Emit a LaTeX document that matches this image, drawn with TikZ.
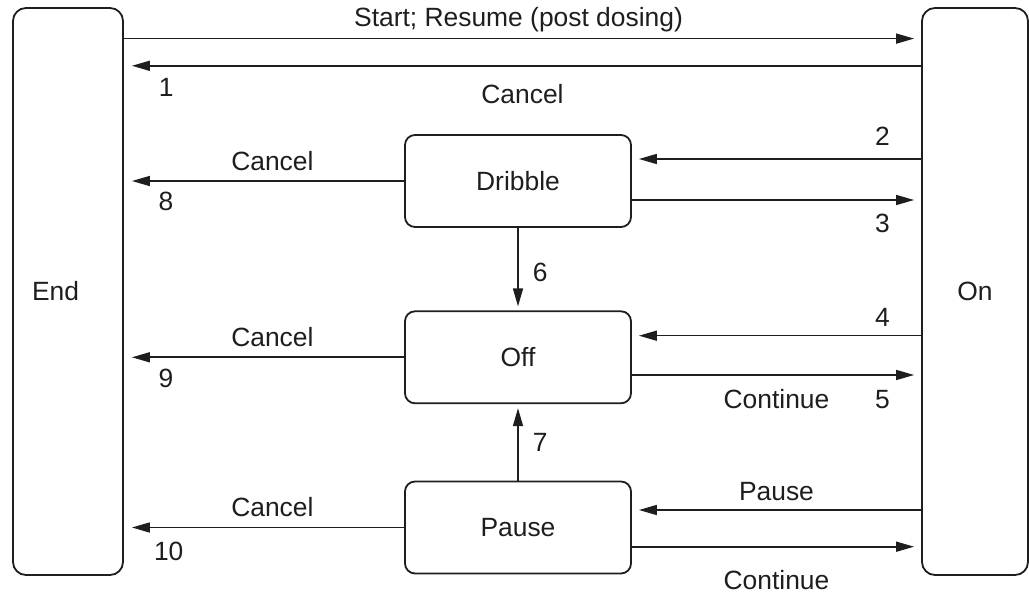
\documentclass[tikz,border=0pt]{standalone}
\usepackage{fontspec}
\setmainfont{Liberation Sans}
\usetikzlibrary{arrows.meta}
\definecolor{ink}{RGB}{30,30,30}
\newcommand\lblfont{\fontsize{13.2pt}{16pt}\selectfont}
\tikzset{
  >={Triangle[length=9pt,width=5pt]},
  tall/.style={draw=ink,line width=0.9pt,rounded corners=6.5pt,minimum width=#1,
    minimum height=283.5pt,inner sep=0pt,font=\lblfont,text=ink},
  state/.style={draw=ink,line width=0.9pt,rounded corners=5pt,minimum width=113pt,
    minimum height=46pt,inner sep=0pt,font=\lblfont,text=ink},
  flow/.style={->,line width=0.8pt,draw=ink,shorten >=3.5pt},
  lbl/.style={font=\lblfont,text=ink,inner sep=0pt,text height=9.4pt,text depth=0pt},
}

\begin{document}
\begin{tikzpicture}[x=0.5pt,y=-0.5pt]
  \useasboundingbox (0,0) rectangle (1029,593);
  \node[tall=55pt,label={[font=\lblfont,text=ink,xshift=-6.25pt]center:End}] (endst) at (68,291.5) {};
  \node[tall=53pt] (onst) at (975,291.5) {On};
  \foreach \n/\t/\y in {dribble/Dribble/181,off/Off/357.3,pause/Pause/527.5}
    \node[state] (\n) at (518,\y) {\t};
  % End <-> On
  \coordinate (sgo) at ([yshift=-15.75pt]endst.north east);
  \coordinate (sback) at ([yshift=-29.35pt]endst.north east);
  \draw[flow] (sgo) -- node[lbl,above=5.5pt,pos=0.495]{Start; Resume (post dosing)} (onst.west |- sgo);
  \draw[flow,shorten >=4pt] (onst.west |- sback) -- node[lbl,below=9.2pt]{Cancel}
    node[lbl,below=5.8pt,pos=0.947]{1} (sback);
  % Dribble
  \coordinate (din) at ([yshift=11pt]dribble.east);
  \coordinate (dout) at ([yshift=-9.5pt]dribble.east);
  \draw[flow] (onst.west |- din) -- node[lbl,above=6.1pt,pos=0.134]{2} (din);
  \draw[flow] (dout) -- node[lbl,below=6.6pt,pos=0.866]{3} (onst.west |- dout);
  % Off
  \coordinate (oin) at ([yshift=10.8pt]off.east);
  \coordinate (oout) at ([yshift=-8.85pt]off.east);
  \draw[flow] (onst.west |- oin) -- node[lbl,above=4.2pt,pos=0.134]{4} (oin);
  \draw[flow] (oout) -- node[lbl,below=7pt]{Continue} node[lbl,below=7pt,pos=0.866]{5} (onst.west |- oout);
  % Pause
  \coordinate (pin) at ([yshift=8.75pt]pause.east);
  \coordinate (pout) at ([yshift=-9.6pt]pause.east);
  \draw[flow] (onst.west |- pin) -- node[lbl,above=4.2pt]{Pause} (pin);
  \draw[flow] (pout) -- node[lbl,below=11.8pt]{Continue} (onst.west |- pout);
  % Cancel to End
  \foreach \n/\k/\d/\p in {dribble/8/5pt/0.85,off/9/5.2pt/0.85,pause/10/6.6pt/0.84}
    \draw[flow,shorten >=4pt] (\n.west) -- node[lbl,above=5pt,pos=0.47]{Cancel}
      node[lbl,below=\d,pos=\p]{\k} (endst.east |- \n.west);
  % between states
  \draw[flow,shorten >=2pt] (dribble.south) -- node[lbl,right=7pt,pos=0.54]{6} (off.north);
  \draw[flow,shorten >=2pt] (pause.north) -- node[lbl,right=7pt,pos=0.51]{7} (off.south);
\end{tikzpicture}
\end{document}
